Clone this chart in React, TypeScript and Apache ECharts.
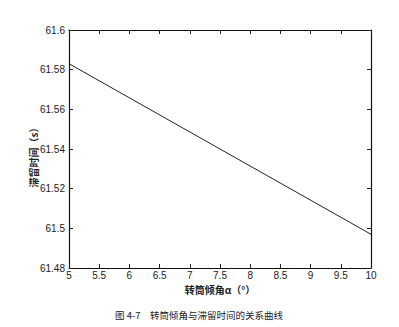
import React, { useEffect, useRef } from "react";
import * as echarts from "echarts";

const angles = [5, 7.5, 10];
const times = [61.583, 61.54, 61.497];
const xTicks = { min: 5, max: 10, interval: 0.5 };
const yTicks = { min: 61.48, max: 61.6, interval: 0.02 };
const xName = "转筒倾角α（°）";
const yName = "滞留时间（s）";
const caption = "图 4-7　转筒倾角与滞留时间的关系曲线";

const fmt = (v: number) => String(parseFloat(v.toFixed(2)));

export default function App() {
  const ref = useRef<HTMLDivElement>(null);
  useEffect(() => {
    const chart = echarts.init(ref.current!, null, { renderer: "svg" });
    const axisLine = { show: true, lineStyle: { color: "#111", width: 1.2 } };
    const tick = { show: true, inside: true, length: 4, lineStyle: { color: "#222" } };
    chart.setOption({
      animation: false,
      backgroundColor: "#fff",
      grid: { left: 69, right: 28, top: 30, bottom: 59 },
      graphic: [
        {
          type: "text",
          x: 115,
          y: 315,
          style: {
            text: caption,
            fontSize: 9.5,
            fill: "#222",
            fontFamily: "Noto Sans CJK SC",
            verticalAlign: "middle",
            align: "left",
          },
        },
        {
          type: "text",
          x: 33,
          y: 155,
          rotation: Math.PI / 2,
          style: {
            text: yName,
            fontSize: 10,
            fontWeight: "bold",
            fill: "#222",
            fontFamily: "Noto Sans CJK SC",
            verticalAlign: "middle",
            align: "center",
          },
        },
      ],
      xAxis: [
        {
          type: "value",
          ...xTicks,
          name: xName,
          nameLocation: "middle",
          nameGap: 11,
          nameTextStyle: { fontSize: 10, fontWeight: "bold", color: "#222", fontFamily: "Noto Sans CJK SC" },
          axisLine,
          axisTick: tick,
          splitLine: { show: false },
          axisLabel: { fontSize: 10, color: "#222", margin: 2, fontFamily: "Liberation Sans", formatter: fmt },
        },
        {
          type: "value",
          position: "top",
          ...xTicks,
          axisLine,
          axisTick: tick,
          splitLine: { show: false },
          axisLabel: { show: false },
        },
      ],
      yAxis: [
        {
          type: "value",
          ...yTicks,
          axisLine,
          axisTick: tick,
          splitLine: { show: false },
          axisLabel: { fontSize: 10, color: "#222", margin: 4, fontFamily: "Liberation Sans", formatter: fmt },
        },
        {
          type: "value",
          position: "right",
          ...yTicks,
          axisLine,
          axisTick: tick,
          splitLine: { show: false },
          axisLabel: { show: false },
        },
      ],
      series: [
        {
          type: "line",
          data: angles.map((a, i) => [a, times[i]]),
          showSymbol: false,
          lineStyle: { color: "#222", width: 1 },
        },
      ],
    });
    return () => chart.dispose();
  }, []);
  return (
    <div
      ref={ref}
      style={{ position: "fixed", left: 0, top: 0, width: 399, height: 327 }}
    />
  );
}
